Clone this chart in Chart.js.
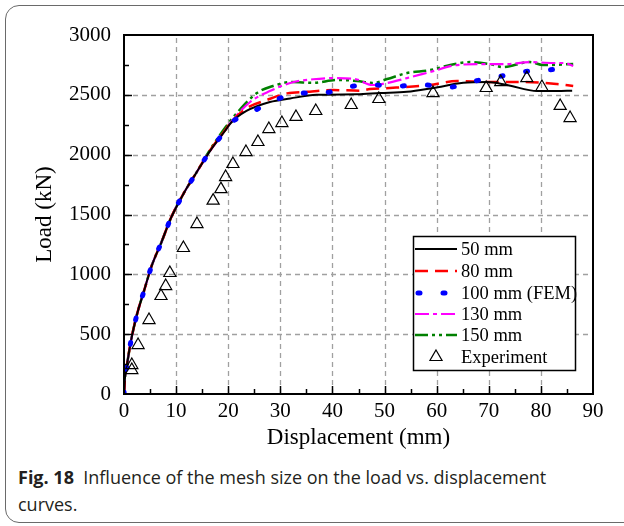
<!DOCTYPE html>
<html>
<head>
<meta charset="utf-8">
<script src="https://cdn.jsdelivr.net/npm/chart.js@4/dist/chart.umd.min.js"></script>
<style>
  html, body { margin: 0; padding: 0; background: #fff; width: 624px; height: 526px; overflow: hidden; }
  #frame { position: absolute; left: 5px; top: 5px; width: 720px; height: 516px; border: 1px solid #6a6a6a; border-radius: 14px; }
  #wrap { position: absolute; left: 0; top: 0; width: 624px; height: 452px; }
  #caption { position: absolute; left: 18px; top: 464px; font-family: "Open Sans", "Noto Sans", sans-serif; font-size: 18px; line-height: 27px; color: #231f20; }
  #caption b { font-weight: 700; }
</style>
</head>
<body>
<div id="frame"></div>
<div id="wrap"><canvas id="c" width="624" height="452"></canvas></div>
<div id="caption"><b>Fig. 18</b>&nbsp; Influence of the mesh size on the load vs. displacement<br>curves.</div>
<script>
// ---- data (displacement in mm, load in kN) ----
const xTicks = [0, 10, 20, 30, 40, 50, 60, 70, 80, 90];
const yTicks = [0, 500, 1000, 1500, 2000, 2500, 3000];

const seriesLabels = ['50 mm', '80 mm', '100 mm (FEM)', '130 mm', '150 mm', 'Experiment'];

const disp50 = [0,0.2,0.5,1.3,2.4,3.9,5.3,7.2,9.0,11.5,13.9,16.5,19.4,20.5,23.5,28.0,31.9,37.0,44.7,49.1,54.3,59.3,65.1,69.7,73.5,79.3,83.1,86.0];
const load50 = [0,140,225,435,650,870,1070,1270,1470,1680,1850,2030,2200,2265,2365,2440,2470,2500,2505,2515,2525,2557,2600,2607,2582,2532,2532,2535];

const disp80 = [0,0.2,0.5,1.3,2.4,3.9,5.3,7.2,9.0,11.5,13.9,16.5,19.4,20.5,23.6,27.4,31.3,35.0,40.1,45.3,47.2,51.0,58.7,63.9,70.2,76.6,83.1,86.2];
const load80 = [0,140,225,435,650,870,1070,1270,1470,1680,1850,2035,2205,2270,2390,2457,2512,2525,2540,2535,2549,2557,2582,2616,2607,2607,2590,2574];

const disp100 = [0,0.2,0.5,1.3,2.4,3.9,5.3,7.2,9.0,11.5,13.9,16.5,19.4,20.5,23.8,28.4,33.2,38.0,42.8,47.8,52.8,57.6,62.6,66.4,71.6,76.0,81.0,83.5];
const load100 = [0,140,225,435,650,870,1070,1270,1470,1680,1850,2030,2200,2265,2340,2440,2515,2515,2565,2582,2574,2582,2565,2607,2649,2690,2707,2715];

const disp130 = [0,0.2,0.5,1.3,2.4,3.9,5.3,7.2,9.0,11.5,13.9,16.5,19.4,20.5,24.2,28.0,32.4,36.3,40.5,44.7,47.6,50.5,54.3,58.7,63.9,68.9,73.5,77.9,82.3,84.5,86.2];
const load130 = [0,140,225,435,650,870,1070,1270,1470,1680,1850,2030,2200,2270,2440,2532,2605,2630,2640,2628,2582,2599,2640,2690,2749,2757,2757,2774,2766,2766,2741];

const disp150 = [0,0.2,0.5,1.3,2.4,3.9,5.3,7.2,9.0,11.5,13.9,16.5,19.4,21.7,25.5,28.6,32.2,36.3,40.9,44.7,47.8,50.5,54.3,58.7,62.6,66.4,70.2,72.7,77.9,80.4,86.2];
const load150 = [0,140,225,435,650,870,1070,1270,1470,1680,1850,2040,2225,2350,2515,2574,2607,2600,2624,2616,2599,2632,2682,2707,2749,2774,2757,2732,2774,2749,2757];

const dispExp = [1.5,1.5,2.7,4.8,7.1,8.0,8.8,11.4,14.0,17.1,18.6,19.5,20.9,23.4,25.7,27.8,30.3,33.0,36.8,43.6,48.9,59.3,69.5,72.3,77.3,80.2,83.7,85.6];
const loadExp = [200,242,409,618,819,902,1011,1220,1420,1616,1712,1813,1922,2022,2106,2214,2264,2315,2365,2415,2465,2515,2557,2607,2640,2565,2407,2306];

function pts(xs, ys) { return xs.map((x, i) => ({ x: x, y: ys[i] })); }

const SERIF = '"Liberation Serif", "Times New Roman", serif';

const lineBase = { showLine: true, pointRadius: 0, fill: false, cubicInterpolationMode: 'monotone' };

const datasets = [
  Object.assign({}, lineBase, { label: seriesLabels[0], data: pts(disp50, load50), borderColor: '#000000', borderWidth: 2, borderDash: [], order: 2 }),
  Object.assign({}, lineBase, { label: seriesLabels[1], data: pts(disp80, load80), borderColor: '#ff0000', borderWidth: 2.5, borderDash: [13, 7], order: 3 }),
  Object.assign({}, lineBase, { label: seriesLabels[2], data: pts(disp100, load100), borderColor: '#0000ff', borderWidth: 5, borderDash: [2, 23], borderCapStyle: 'round', order: 1 }),
  Object.assign({}, lineBase, { label: seriesLabels[3], data: pts(disp130, load130), borderColor: '#ff00ff', borderWidth: 2.2, borderDash: [14, 4, 4, 4], order: 4 }),
  Object.assign({}, lineBase, { label: seriesLabels[4], data: pts(disp150, load150), borderColor: '#008000', borderWidth: 2.5, borderDash: [13, 4, 3, 4, 3, 4], order: 5 }),
  { label: seriesLabels[5], data: pts(dispExp, loadExp), showLine: false, pointStyle: 'triangle', pointRadius: 7, pointHoverRadius: 7,
    pointBorderColor: '#000000', pointBackgroundColor: 'rgba(0,0,0,0)', pointBorderWidth: 1.2, borderColor: '#000000', order: 0 }
];

// dashed grid behind the data
const gridPlugin = {
  id: 'gridPlugin',
  beforeDatasetsDraw(chart) {
    const ctx = chart.ctx, a = chart.chartArea;
    const xs = chart.scales.x, ys = chart.scales.y;
    ctx.save();
    ctx.strokeStyle = '#a0a0a0';
    ctx.lineWidth = 1.3;
    ctx.setLineDash([5, 4]);
    xTicks.slice(1, -1).forEach(v => {
      const px = Math.round(xs.getPixelForValue(v)) + 0.5;
      ctx.beginPath(); ctx.moveTo(px, a.bottom); ctx.lineTo(px, a.top); ctx.stroke();
    });
    yTicks.slice(1, -1).forEach(v => {
      const py = Math.round(ys.getPixelForValue(v)) + 0.5;
      ctx.beginPath(); ctx.moveTo(a.left, py); ctx.lineTo(a.right, py); ctx.stroke();
    });
    ctx.restore();
  }
};

// frame, inward ticks and inset legend
const framePlugin = {
  id: 'framePlugin',
  afterDraw(chart) {
    const ctx = chart.ctx;
    const a = chart.chartArea;
    const xs = chart.scales.x, ys = chart.scales.y;
    ctx.save();
    ctx.setLineDash([]);
    ctx.strokeStyle = '#000';
    ctx.lineWidth = 1.5;
    for (let v = 5; v < 90; v += 5) {
      const px = Math.round(xs.getPixelForValue(v)) + 0.5;
      const len = (v % 10 === 0) ? 8 : 5;
      ctx.beginPath(); ctx.moveTo(px, a.bottom); ctx.lineTo(px, a.bottom - len); ctx.stroke();
    }
    for (let v = 250; v < 3000; v += 250) {
      const py = Math.round(ys.getPixelForValue(v)) + 0.5;
      const len = (v % 500 === 0) ? 8 : 5;
      ctx.beginPath(); ctx.moveTo(a.left, py); ctx.lineTo(a.left + len, py); ctx.stroke();
    }
    ctx.lineWidth = 2;
    ctx.strokeRect(a.left, a.top, a.right - a.left, a.bottom - a.top);

    // legend
    const lx = 413, ly = 236, lw = 162, lh = 134;
    ctx.fillStyle = '#fff';
    ctx.fillRect(lx, ly, lw, lh);
    ctx.lineWidth = 1.5;
    ctx.strokeStyle = '#000';
    ctx.strokeRect(lx + 0.5, ly + 0.5, lw, lh);
    const rows = [249, 271, 293, 314, 335, 357];
    ctx.font = '18.5px ' + SERIF;
    ctx.textBaseline = 'middle';
    ctx.textAlign = 'left';
    chart.data.datasets.forEach((ds, i) => {
      const y = rows[i];
      if (ds.showLine) {
        ctx.save();
        ctx.strokeStyle = ds.borderColor;
        ctx.lineWidth = ds.borderWidth;
        ctx.setLineDash(ds.borderDash || []);
        ctx.lineCap = ds.borderCapStyle || 'butt';
        ctx.beginPath();
        const x0 = ds.borderCapStyle === 'round' ? 418 : 415;
        ctx.moveTo(x0, y); ctx.lineTo(457, y); ctx.stroke();
        ctx.restore();
      } else {
        ctx.save();
        ctx.strokeStyle = '#000'; ctx.lineWidth = 1.2; ctx.setLineDash([]);
        const r = ds.pointRadius, cx = 436;
        ctx.beginPath();
        for (let k = 0; k < 3; k++) {
          const ang = k * 2 * Math.PI / 3;
          const px = cx + Math.sin(ang) * r, py = y - Math.cos(ang) * r;
          if (k === 0) ctx.moveTo(px, py); else ctx.lineTo(px, py);
        }
        ctx.closePath(); ctx.stroke();
        ctx.restore();
      }
      ctx.fillStyle = '#000';
      ctx.fillText(ds.label, 461, y + 1);
    });
    ctx.restore();
  }
};

new Chart(document.getElementById('c'), {
  type: 'scatter',
  data: { datasets: datasets },
  options: {
    responsive: false,
    devicePixelRatio: 1,
    animation: false,
    events: [],
    layout: { padding: { top: 35, right: 31, left: 0, bottom: 0 } },
    plugins: { legend: { display: false }, tooltip: { enabled: false } },
    scales: {
      x: {
        type: 'linear', min: 0, max: 90,
        afterBuildTicks(s) { s.ticks = xTicks.map(v => ({ value: v })); },
        afterFit(s) { s.height = 58; },
        ticks: { color: '#000', font: { family: SERIF, size: 21 }, padding: 5, maxRotation: 0, autoSkip: false, callback: (v) => String(v) },
        grid: { display: false, drawTicks: false },
        border: { display: false },
        title: { display: true, text: 'Displacement (mm)', color: '#000', font: { family: SERIF, size: 23 }, padding: { top: 0, bottom: 0 } }
      },
      y: {
        type: 'linear', min: 0, max: 3000,
        afterBuildTicks(s) { s.ticks = yTicks.map(v => ({ value: v })); },
        afterFit(s) { s.width = 124; },
        ticks: { color: '#000', font: { family: SERIF, size: 21 }, padding: 13, autoSkip: false, callback: (v) => String(v) },
        grid: { display: false, drawTicks: false },
        border: { display: false },
        title: { display: true, text: 'Load (kN)', color: '#000', font: { family: SERIF, size: 23 }, padding: { top: 31, bottom: 0 } }
      }
    }
  },
  plugins: [gridPlugin, framePlugin]
});
</script>
</body>
</html>
